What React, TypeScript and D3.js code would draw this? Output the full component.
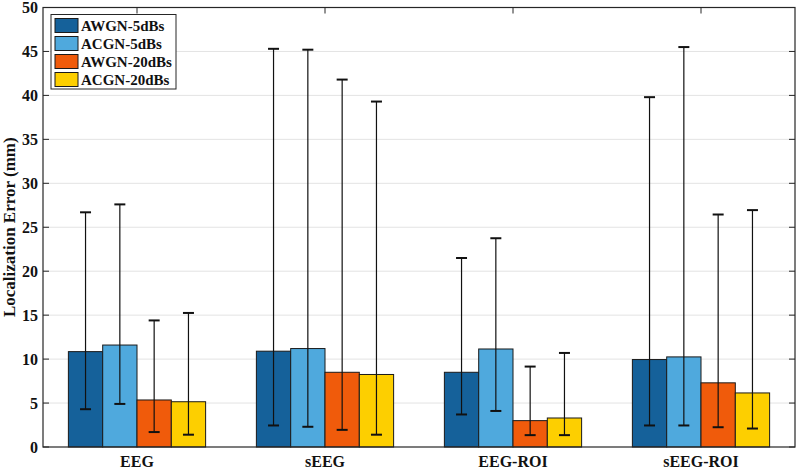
import React from 'react';
import * as d3 from 'd3';

const categories = ['EEG', 'sEEG', 'EEG-ROI', 'sEEG-ROI'];
const seriesNames = ['AWGN-5dBs', 'ACGN-5dBs', 'AWGN-20dBs', 'ACGN-20dBs'];
const seriesColors = ['#15619a', '#4fa9dd', '#f05b0b', '#fdcf00'];

// mean values per series, one entry per category
const meanValues = [
  [10.85, 10.9, 8.5, 9.95],
  [11.6, 11.2, 11.15, 10.25],
  [5.35, 8.5, 3.0, 7.3],
  [5.15, 8.25, 3.3, 6.15],
];
const upperValues = [
  [26.7, 45.3, 21.5, 39.8],
  [27.6, 45.2, 23.75, 45.5],
  [14.4, 41.8, 9.15, 26.45],
  [15.25, 39.3, 10.7, 26.95],
];
const lowerValues = [
  [4.3, 2.45, 3.7, 2.45],
  [4.9, 2.3, 4.1, 2.45],
  [1.7, 1.95, 1.35, 2.25],
  [1.4, 1.4, 1.35, 2.1],
];
const yTicks = [0, 5, 10, 15, 20, 25, 30, 35, 40, 45, 50];

const W = 800;
const H = 469;
const margin = { top: 7.5, right: 5, bottom: 22, left: 43 };
const serif = '"Liberation Serif", "Times New Roman", serif';

export default function App() {
  const x0 = d3
    .scaleBand<string>()
    .domain(categories)
    .range([margin.left, W - margin.right])
    .paddingInner(0)
    .paddingOuter(0);
  const groupW = x0.bandwidth() * 0.73;
  const x1 = d3
    .scaleBand<string>()
    .domain(seriesNames)
    .range([0, groupW])
    .padding(0);
  const y = d3.scaleLinear().domain([0, 50]).range([H - margin.bottom, margin.top]);

  const left = margin.left;
  const right = W - margin.right;
  const top = margin.top;
  const bottom = H - margin.bottom;
  const capW = 11;

  return (
    <svg
      width={W}
      height={H}
      style={{ position: 'absolute', left: 0, top: 0, background: '#fff' }}
      fontFamily={serif}
    >
      {/* grid */}
      {yTicks.slice(1, -1).map((t) => (
        <line key={'g' + t} x1={left} x2={right} y1={y(t)} y2={y(t)} stroke="#e3e3e3" strokeWidth={1} />
      ))}

      {/* bars */}
      {categories.map((c, ci) => {
        const gx = (x0(c) ?? 0) + (x0.bandwidth() - groupW) / 2;
        return seriesNames.map((s, si) => {
          const bx = gx + (x1(s) ?? 0);
          const v = meanValues[si][ci];
          return (
            <rect
              key={c + s}
              x={bx}
              y={y(v)}
              width={x1.bandwidth()}
              height={y(0) - y(v)}
              fill={seriesColors[si]}
              stroke="#1a1a1a"
              strokeWidth={1}
            />
          );
        });
      })}

      {/* error bars */}
      {categories.map((c, ci) => {
        const gx = (x0(c) ?? 0) + (x0.bandwidth() - groupW) / 2;
        return seriesNames.map((s, si) => {
          const cx = gx + (x1(s) ?? 0) + x1.bandwidth() / 2;
          const hi = y(upperValues[si][ci]);
          const lo = y(lowerValues[si][ci]);
          return (
            <g key={'e' + c + s} stroke="#111" strokeWidth={1.2}>
              <line x1={cx} x2={cx} y1={hi} y2={lo} />
              <line x1={cx - capW / 2} x2={cx + capW / 2} y1={hi} y2={hi} strokeWidth={2} />
              <line x1={cx - capW / 2} x2={cx + capW / 2} y1={lo} y2={lo} strokeWidth={2} />
            </g>
          );
        });
      })}

      {/* axes box */}
      <rect x={left} y={top} width={right - left} height={bottom - top} fill="none" stroke="#262626" strokeWidth={1.2} />

      {/* y ticks */}
      {yTicks.map((t) => (
        <g key={'t' + t}>
          <line x1={left} x2={left + 6} y1={y(t)} y2={y(t)} stroke="#262626" />
          <line x1={right - 6} x2={right} y1={y(t)} y2={y(t)} stroke="#262626" />
          <text
            x={left - 5}
            y={y(t)}
            dy="0.35em"
            textAnchor="end"
            fontSize={16}
            fontWeight="bold"
            fill="#111"
          >
            {t}
          </text>
        </g>
      ))}

      {/* x ticks and labels */}
      {categories.map((c) => {
        const cx = (x0(c) ?? 0) + x0.bandwidth() / 2;
        return (
          <g key={'x' + c}>
            <line x1={cx} x2={cx} y1={top} y2={top + 6} stroke="#262626" />
            <text x={cx} y={bottom + 20} textAnchor="middle" fontSize={16} fontWeight="bold" fill="#111">
              {c}
            </text>
          </g>
        );
      })}

      {/* y label */}
      <text
        transform={`translate(15,${(top + bottom) / 2}) rotate(-90)`}
        textAnchor="middle"
        fontSize={17}
        fontWeight="bold"
        fill="#111"
      >
        Localization Error (mm)
      </text>

      {/* legend */}
      <g transform="translate(51,14.5)">
        <rect x={0} y={0} width={125} height={74.5} fill="#fff" stroke="#262626" strokeWidth={1} />
        {seriesNames.map((s, i) => (
          <g key={'l' + s} transform={`translate(4,${4 + i * 18})`}>
            <rect x={0} y={0} width={23} height={14} fill={seriesColors[i]} stroke="#1a1a1a" strokeWidth={1} />
            <text x={26} y={7} dy="0.36em" fontSize={15} fontWeight="bold" fill="#111">
              {s}
            </text>
          </g>
        ))}
      </g>
    </svg>
  );
}
